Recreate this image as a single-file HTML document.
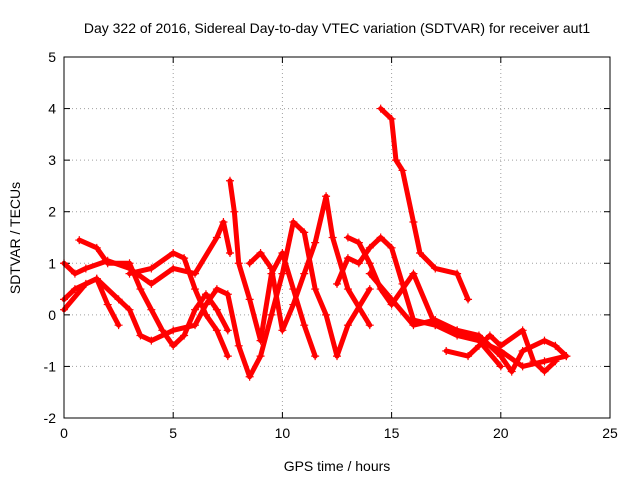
<!DOCTYPE html>
<html><head><meta charset="utf-8"><style>
html,body{margin:0;padding:0;background:#fff;}
svg text{font-family:"Liberation Sans",sans-serif;font-size:14px;fill:#000;}
</style></head><body>
<svg id="chart" width="640" height="480" xmlns="http://www.w3.org/2000/svg">
<text x="337" y="33" text-anchor="middle">Day 322 of 2016, Sidereal Day-to-day VTEC variation (SDTVAR) for receiver aut1</text>
<text x="337" y="471" text-anchor="middle">GPS time / hours</text>
<text x="20" y="238" text-anchor="middle" transform="rotate(-90 20 238)">SDTVAR / TECUs</text>
<g id="grid"></g>
<g id="ticks"></g>
<g id="series"></g>
<rect x="64" y="57" width="546" height="361" fill="none" stroke="#000" stroke-width="1"/>
</svg>
<script>
const xTicks=[0,5,10,15,20,25];
const yTicks=[-2,-1,0,1,2,3,4,5];
const trackA=[[0,1.0],[0.5,0.8],[1,0.9],[2,1.05],[3,0.9],[4,0.6],[5,0.9],[6,0.8],[7,1.5],[7.3,1.8],[7.6,1.2]];
const trackB=[[0,0.3],[0.5,0.5],[1.5,0.7],[2.5,0.3],[3,0.1],[3.5,-0.4],[4,-0.5],[5,-0.3],[6,-0.2],[6.5,0.2],[7,0.5],[7.5,0.4],[8,-0.6],[8.5,-1.2],[9,-0.8],[9.5,0.0],[10,0.8],[10.5,1.8],[11,1.6],[11.5,0.5],[12,0],[12.5,-0.8],[13,-0.2],[14,0.5]];
const trackC=[[0,0.1],[1,0.6],[1.5,0.7],[2,0.2],[2.5,-0.2]];
const trackD=[[0.7,1.45],[1.5,1.3],[2,1.0],[3,1.0],[3.5,0.5],[4,0.1],[4.5,-0.3],[5,-0.6],[5.5,-0.4],[6,0.1],[6.5,0.4],[7,0.1],[7.5,-0.3]];
const trackE=[[3,0.8],[4,0.9],[5,1.2],[5.5,1.1],[6,0.5],[6.5,0.0],[7,-0.3],[7.5,-0.8]];
const trackF=[[7.6,2.6],[7.8,2.0],[8,1.0],[8.5,0.3],[9,-0.5],[9.5,0.8],[10,1.2],[10.5,0.5],[11,-0.2],[11.5,-0.8]];
const trackG=[[8.5,1.0],[9,1.2],[9.5,0.9],[10,-0.3],[10.5,0.2],[11,0.8],[11.5,1.4],[12,2.3],[12.3,1.5],[13,0.5],[14,-0.2]];
const trackH=[[12.5,0.6],[13,1.1],[13.5,1.0],[14,1.3],[14.5,1.5],[15,1.3],[15.5,0.6],[16,-0.1],[17,-0.2],[18,-0.4],[19,-0.5],[20,-0.7],[21,-1.0],[22,-0.9],[23,-0.8]];
const trackI=[[14.5,4.0],[15,3.8],[15.2,3.0],[15.5,2.8],[16,1.8],[16.3,1.2],[17,0.9],[18,0.8],[18.5,0.3]];
const trackJ=[[13,1.5],[13.5,1.4],[14,1.0],[14.5,0.5],[15,0.2],[16,0.8],[17,-0.2],[18,-0.3],[19,-0.4],[20,-0.8],[20.5,-1.1],[21,-0.7],[22,-0.5],[22.5,-0.6],[23,-0.8]];
const trackK=[[17.5,-0.7],[18.5,-0.8],[19,-0.6],[19.5,-0.4],[20,-0.6],[21,-0.3],[21.5,-0.9],[22,-1.1],[22.5,-0.9]];
const trackL=[[14,0.8],[15,0.3],[16,-0.2],[17,-0.1],[18,-0.3],[19,-0.5],[20,-1.0]];
const tracks=[trackA,trackB,trackC,trackD,trackE,trackF,trackG,trackH,trackI,trackJ,trackK,trackL];

const L=64,R=610,T=57,B=418,xMin=0,xMax=25,yMin=-2,yMax=5;
const sx=v=>L+(v-xMin)/(xMax-xMin)*(R-L);
const sy=v=>B-(v-yMin)/(yMax-yMin)*(B-T);
const NS='http://www.w3.org/2000/svg';
const mk=(t,a,p)=>{const e=document.createElementNS(NS,t);for(const k in a)e.setAttribute(k,a[k]);p.appendChild(e);return e;};
const grid=document.getElementById('grid'),ticks=document.getElementById('ticks'),ser=document.getElementById('series');
xTicks.forEach(v=>{
  const x=sx(v);
  if(v>xMin&&v<xMax){const g=mk('line',{x1:x,x2:x,y1:T,y2:B,stroke:'#a0a0a0','stroke-dasharray':'1,3'},grid);
  
  }
  const tk=mk('line',{x1:x,x2:x,y1:B,y2:B-6,stroke:'#000'},ticks);
  
  
  const tk2=mk('line',{x1:x,x2:x,y1:T,y2:T+6,stroke:'#000'},ticks);
  
  
  const t=mk('text',{x:x,y:B+20,'text-anchor':'middle'},ticks);t.textContent=v;
  
  
});
yTicks.forEach(v=>{
  const y=sy(v);
  if(v>yMin&&v<yMax){const g=mk('line',{x1:L,x2:R,y1:y,y2:y,stroke:'#a0a0a0','stroke-dasharray':'1,3'},grid);
  
  }
  const tk=mk('line',{x1:L,x2:L+6,y1:y,y2:y,stroke:'#000'},ticks);
  
  
  const tk2=mk('line',{x1:R,x2:R-6,y1:y,y2:y,stroke:'#000'},ticks);
  
  
  const t=mk('text',{x:L-8,y:y+5,'text-anchor':'end'},ticks);t.textContent=v;
  
  
});
tracks.forEach((tr,i)=>{
  const pl=mk('polyline',{points:tr.map(p=>sx(p[0])+','+sy(p[1])).join(' '),fill:'none',stroke:'#ff0000','stroke-width':5,'stroke-linejoin':'round','stroke-linecap':'round'},ser);
  
  
  tr.forEach(p=>{
    const x=sx(p[0]),y=sy(p[1]);
    const m=mk('path',{d:`M${x-4},${y}H${x+4}M${x},${y-4}V${y+4}`,stroke:'#ff0000','stroke-width':1.2},ser);
    
    
  });
});
</script>
</body></html>
